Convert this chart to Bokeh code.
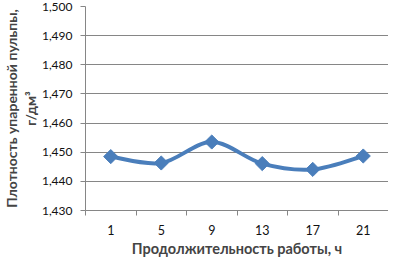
import math
from bokeh.plotting import figure
from bokeh.models import FixedTicker, CustomJSTickFormatter, Range1d
from bokeh.embed import file_html
from bokeh.resources import INLINE

# data
hours = [1, 5, 9, 13, 17, 21]
density = [1.4485, 1.4463, 1.4535, 1.4461, 1.4441, 1.4487]
y_ticks = [1.430, 1.440, 1.450, 1.460, 1.470, 1.480, 1.490, 1.500]
x_label = "Продолжительность работы, ч"
y_label = "Плотность упаренной пульпы,\nг/дм³"

color = "#4A7EBB"
grey = "#868686"
font = "Lato"

p = figure(width=388, height=259, output_backend="svg", toolbar_location=None,
           x_range=Range1d(-1, 23), y_range=Range1d(1.430, 1.500),
           min_border_left=82, min_border_right=0, min_border_top=6, min_border_bottom=43)
p.outline_line_color = None
p.background_fill_color = "white"
p.border_fill_color = "white"

# smoothed line (Catmull-Rom style bezier through the data points)
n = len(hours)
x0, y0, x1, y1, cx0, cy0, cx1, cy1 = [], [], [], [], [], [], [], []
for i in range(n - 1):
    xp, yp = (hours[i - 1], density[i - 1]) if i > 0 else (hours[i], density[i])
    xn2, yn2 = (hours[i + 2], density[i + 2]) if i + 2 < n else (hours[i + 1], density[i + 1])
    x0.append(hours[i]); y0.append(density[i])
    x1.append(hours[i + 1]); y1.append(density[i + 1])
    cx0.append(hours[i] + (hours[i + 1] - xp) / 6)
    cy0.append(density[i] + (density[i + 1] - yp) / 6)
    cx1.append(hours[i + 1] - (xn2 - hours[i]) / 6)
    cy1.append(density[i + 1] - (yn2 - density[i]) / 6)
p.bezier(x0=x0, y0=y0, x1=x1, y1=y1, cx0=cx0, cy0=cy0, cx1=cx1, cy1=cy1,
         line_color=color, line_width=4, line_cap="round")
p.scatter(hours, density, marker="square", angle=math.pi / 4, size=10,
          fill_color=color, line_color=color)

# x axis
xa = p.xaxis[0]
xa.ticker = FixedTicker(ticks=hours, minor_ticks=[-1, 3, 7, 11, 15, 19, 23])
xa.major_tick_out = 0
xa.major_tick_in = 0
xa.minor_tick_out = 5
xa.minor_tick_in = 0
xa.minor_tick_line_color = grey
xa.axis_line_color = grey
xa.major_label_standoff = 9
xa.major_label_text_font = font
xa.major_label_text_font_size = "12.5px"
xa.major_label_text_color = "#111111"
xa.axis_label = x_label
xa.axis_label_text_font = font
xa.axis_label_text_font_size = "14.5px"
xa.axis_label_text_font_style = "bold"
xa.axis_label_standoff = 2

# y axis
ya = p.yaxis[0]
ya.ticker = FixedTicker(ticks=y_ticks, minor_ticks=[])
ya.formatter = CustomJSTickFormatter(code="return tick.toFixed(3).replace('.', ',');")
ya.major_tick_out = 5
ya.major_tick_in = 0
ya.major_tick_line_color = grey
ya.axis_line_color = grey
ya.major_label_standoff = 8
ya.major_label_text_font = font
ya.major_label_text_font_size = "12px"
ya.major_label_text_color = "#111111"
ya.axis_label = y_label
ya.axis_label_text_font = font
ya.axis_label_text_font_size = "14px"
ya.axis_label_text_font_style = "bold"
ya.axis_label_text_line_height = 1.1
ya.axis_label_standoff = 0

p.xgrid.grid_line_color = None
p.ygrid.grid_line_color = grey
p.ygrid.grid_line_width = 1

open("out.html", "w").write(file_html(p, INLINE))
